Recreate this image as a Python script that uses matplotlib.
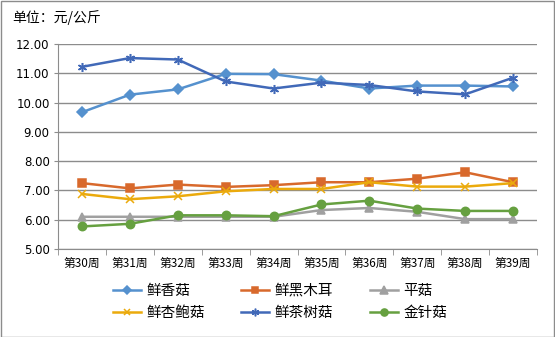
import matplotlib
matplotlib.use("Agg")
import matplotlib.pyplot as plt
from matplotlib.patches import Rectangle

plt.rcParams['font.family'] = ['Noto Sans CJK SC', 'DejaVu Sans']

weeks = ["第30周", "第31周", "第32周", "第33周", "第34周",
         "第35周", "第36周", "第37周", "第38周", "第39周"]

xianggu = [9.67, 10.27, 10.45, 10.98, 10.97, 10.75, 10.48, 10.58, 10.58, 10.55]
heimuer = [7.25, 7.07, 7.20, 7.12, 7.18, 7.28, 7.28, 7.40, 7.62, 7.28]
pinggu = [6.10, 6.10, 6.10, 6.10, 6.10, 6.33, 6.40, 6.27, 6.02, 6.02]
xingbaogu = [6.88, 6.70, 6.80, 6.97, 7.05, 7.05, 7.28, 7.13, 7.13, 7.25]
chashugu = [11.22, 11.52, 11.47, 10.72, 10.48, 10.68, 10.60, 10.38, 10.28, 10.85]
jinzhengu = [5.77, 5.86, 6.15, 6.15, 6.12, 6.52, 6.65, 6.38, 6.30, 6.30]

series = [
    ("鲜香菇", xianggu, "#5591CE", "D", 5),
    ("鲜黑木耳", heimuer, "#D8692C", "s", 5.5),
    ("平菇", pinggu, "#A0A0A0", "^", 6),
    ("鲜杏鲍菇", xingbaogu, "#EBAA0C", "x", 5.5),
    ("鲜茶树菇", chashugu, "#4169B8", (6, 2, 0), 6.5),
    ("金针菇", jinzhengu, "#66A040", "o", 6),
]

fig = plt.figure(figsize=(5.55, 3.37), dpi=100)
fig.patches.append(Rectangle((0.001, 0.001), 0.997, 0.996, transform=fig.transFigure,
                             fill=False, edgecolor="#8c8c8c", linewidth=1))
ax = fig.add_axes([58 / 555, 1 - 249 / 337, (537 - 58) / 555, (249 - 44) / 337])

x = list(range(len(weeks)))
lines = {}
for name, vals, color, marker, ms in series:
    ln, = ax.plot(x, vals, color=color, marker=marker, markersize=ms, linewidth=1.8,
                  markeredgewidth=1.1, label=name)
    lines[name] = ln

ax.set_ylim(5, 12)
ax.set_yticks([5, 6, 7, 8, 9, 10, 11, 12])
ax.set_yticklabels([f"{v:.2f}" for v in range(5, 13)], fontsize=8.5, family="DejaVu Sans")
ax.set_xlim(-0.5, len(weeks) - 0.5)
ax.set_xticks(x)
ax.set_xticklabels(weeks, fontsize=8.5)
ax.set_xticks([i - 0.5 for i in range(len(weeks) + 1)], minor=True)
ax.tick_params(axis="x", which="major", length=0, pad=6)
ax.tick_params(axis="x", which="minor", length=4, color="#8c8c8c")
ax.tick_params(axis="y", length=3, color="#8c8c8c", pad=3)
ax.grid(axis="y", color="#8c8c8c", linewidth=1)
ax.set_axisbelow(True)
for s in ["top", "right"]:
    ax.spines[s].set_visible(False)
for s in ["left", "bottom"]:
    ax.spines[s].set_color("#8c8c8c")

fig.text(12 / 555, 1 - 18 / 337, "单位：元/公斤", fontsize=10, va="center")

# legend is filled column by column; order so rows read like the original
order = ["鲜香菇", "鲜杏鲍菇", "鲜黑木耳", "鲜茶树菇", "平菇", "金针菇"]
fig.legend([lines[n] for n in order], order, loc="center",
           bbox_to_anchor=(280 / 555, 1 - 302 / 337), ncol=3,
           frameon=False, fontsize=10.5, handlelength=1.9, columnspacing=2.5,
           labelspacing=0.6, handletextpad=0.4, markerscale=0.85)

fig.savefig("out.png", dpi=100)
